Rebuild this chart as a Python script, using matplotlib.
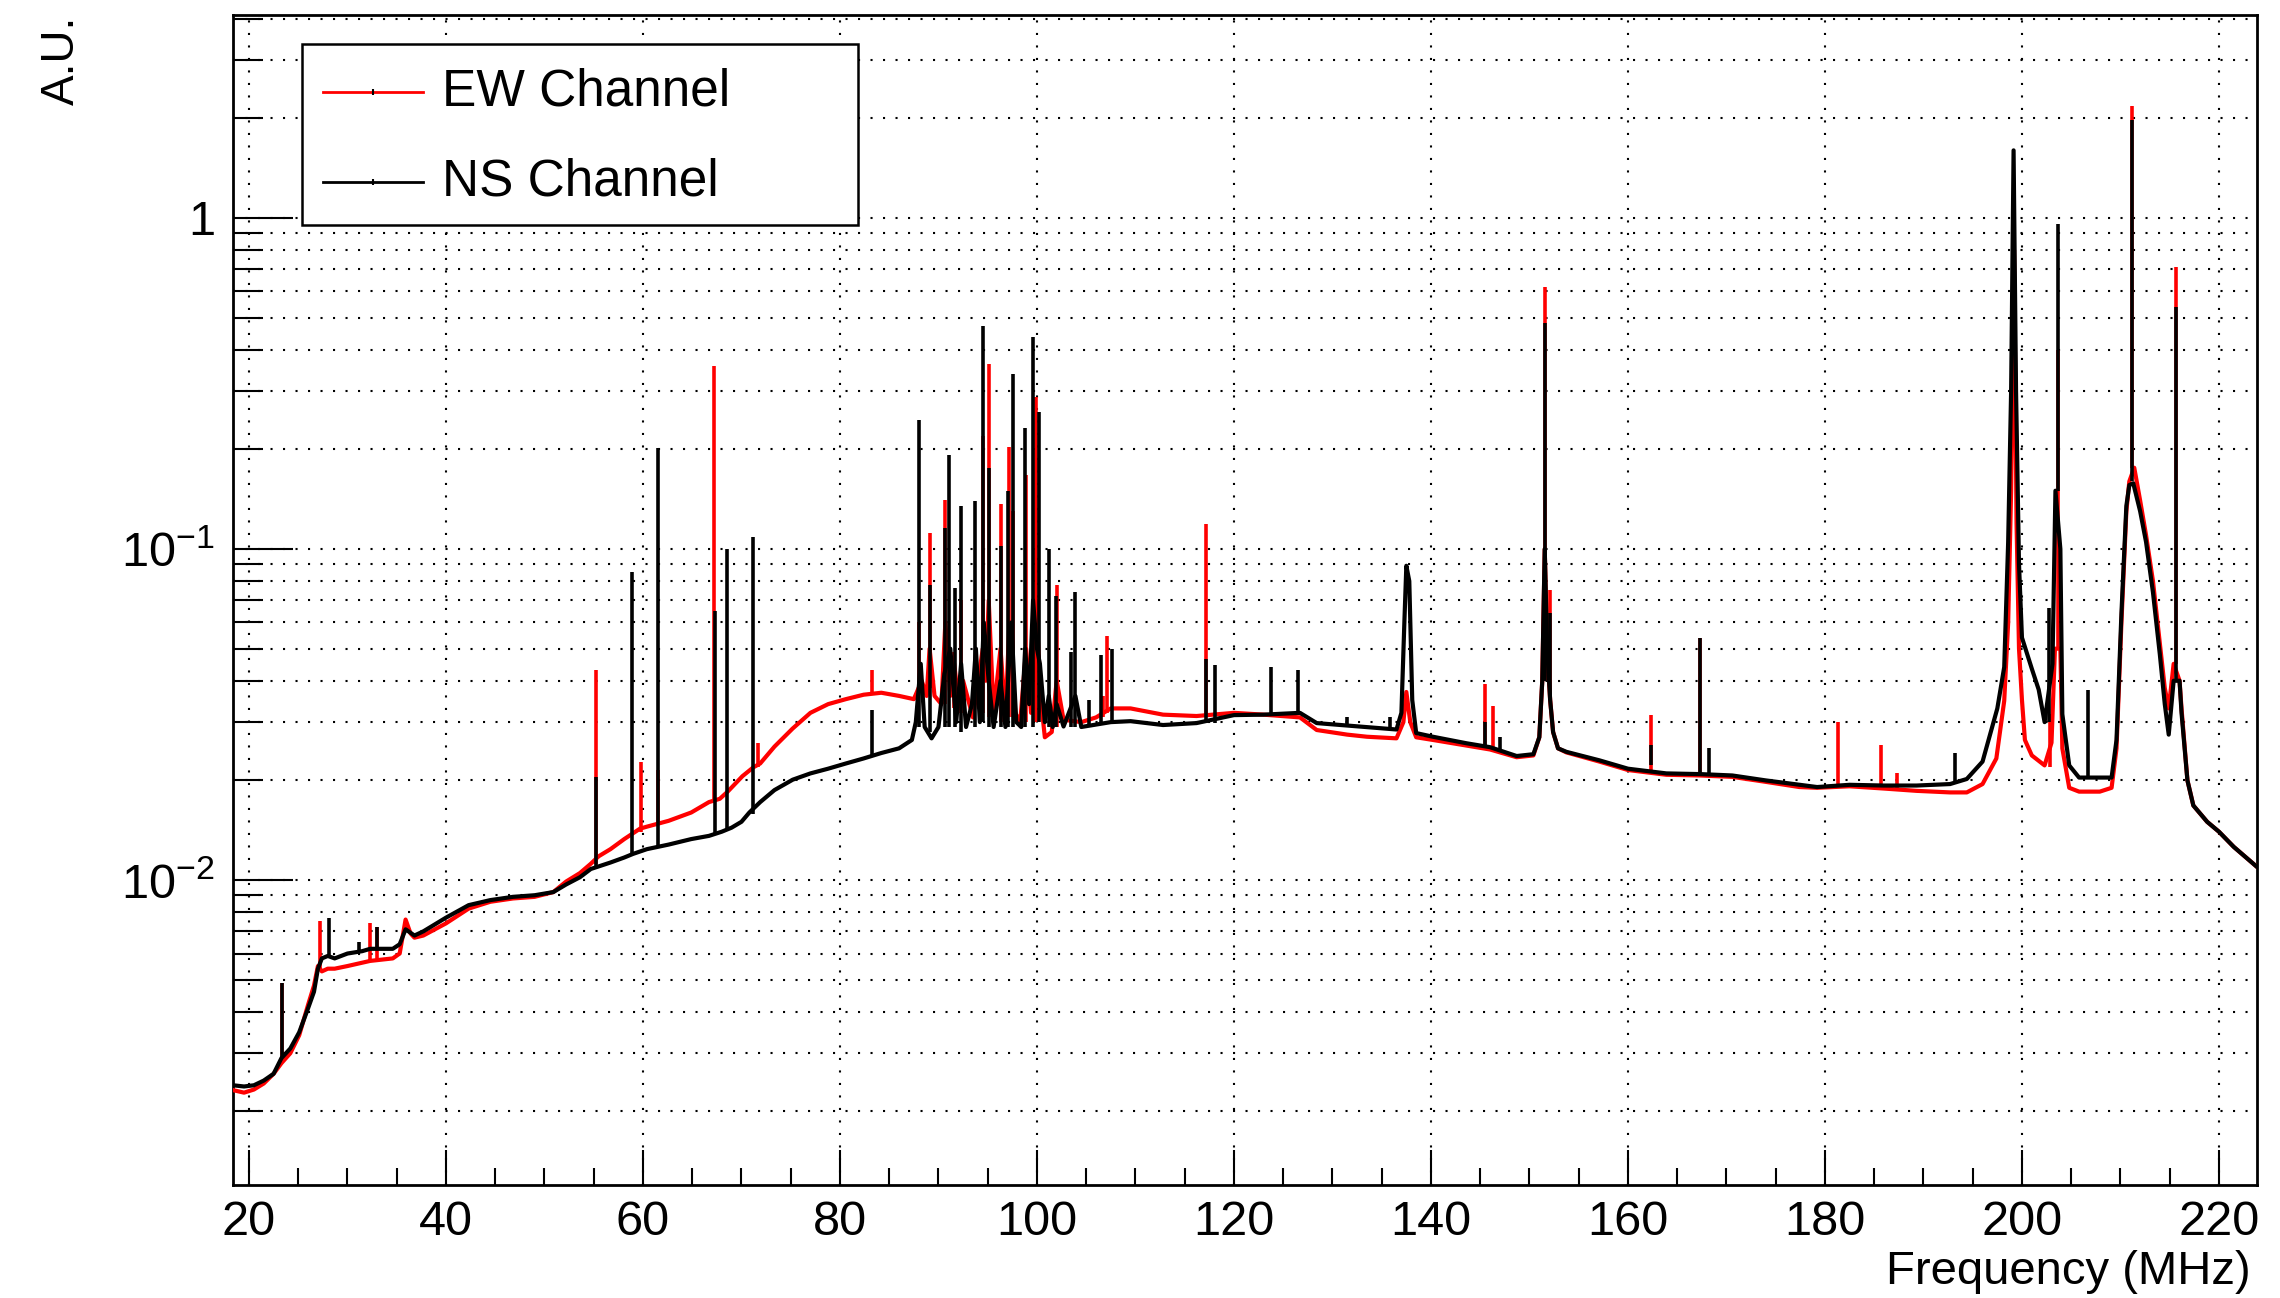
import matplotlib
matplotlib.use('Agg')
import matplotlib.pyplot as plt
import numpy as np
from matplotlib.patches import Rectangle
from matplotlib.lines import Line2D
from matplotlib.ticker import MultipleLocator, LogLocator, NullFormatter

plt.rcParams['font.family'] = ['Liberation Sans', 'DejaVu Sans']

# NS channel (black) - smooth part of the spectrum
ns_freq = [18.4, 19.5, 20.5, 21.5, 22.5, 23.3, 24.2, 25.1, 26.0, 26.6, 27.0, 27.4, 28.0, 28.7,
           30.0, 31.5, 32.3, 33.5, 34.6, 35.3, 35.9, 36.8, 37.7, 40.0, 42.3, 44.5, 46.8, 49.0,
           50.9, 52.2, 53.6, 54.7, 55.5, 56.7, 58.1, 59.0, 60.4, 62.6, 64.9, 66.7, 68.0, 69.0,
           70.0, 70.8, 71.9, 73.35, 75.2, 77.0, 78.8, 80.6, 82.4, 84.2, 86.0, 87.3, 87.7, 88.2,
           88.6, 89.3, 90.0, 90.6, 91.2, 91.8, 92.3, 92.8, 93.4, 93.8, 94.2, 94.6, 95.1, 95.6,
           96.3, 96.8, 97.4, 97.9, 98.4, 98.8, 99.2, 99.6, 100.0, 100.3, 100.8, 101.2, 101.6,
           102.0, 102.7, 103.9, 104.5, 106.0, 107.5, 109.5, 112.8, 116.2, 120.0, 123.0, 126.7,
           128.4, 131.5, 133.5, 136.5, 137.0, 137.3, 137.5, 137.8, 138.1, 138.5, 140.2, 143.6,
           146.0, 148.7, 150.4, 151.0, 151.3, 151.55, 151.8, 152.1, 152.4, 152.9, 153.75,
           157.1, 160.0, 163.9, 167.3, 170.6, 174.0, 177.4, 179.2, 182.5, 186.0, 189.3, 192.7,
           194.4, 196.0, 197.5, 198.2, 198.6, 198.9, 199.15, 199.4, 199.7, 200.0, 201.0, 201.7,
           202.3, 203.1, 203.4, 203.9, 204.1, 204.8, 205.8, 207.9, 209.1, 209.6, 210.1, 210.6,
           210.9, 211.3, 212.0, 212.6, 213.3, 214.0, 214.5, 214.9, 215.4, 216.0, 216.2, 216.8,
           217.4, 218.8, 220.0, 221.5, 223.8]
ns_val = [0.0024, 0.00238, 0.0024, 0.00248, 0.0026, 0.0029, 0.0031, 0.00347, 0.0041, 0.0046,
          0.0054, 0.0058, 0.0059, 0.0058, 0.0060, 0.0061, 0.0062, 0.0062, 0.0062, 0.0064,
          0.0071, 0.0068, 0.0070, 0.0077, 0.0084, 0.0087, 0.0089, 0.0090, 0.0092, 0.0097,
          0.0102, 0.0108, 0.0110, 0.0113, 0.0117, 0.0120, 0.0124, 0.0128, 0.0133, 0.0136,
          0.0140, 0.0144, 0.0150, 0.0160, 0.0172, 0.0187, 0.0201, 0.0210, 0.0217, 0.0225,
          0.0233, 0.0242, 0.0250, 0.0265, 0.030, 0.045, 0.029, 0.0268, 0.029, 0.042, 0.050,
          0.030, 0.045, 0.029, 0.034, 0.050, 0.030, 0.060, 0.040, 0.029, 0.040, 0.029, 0.060,
          0.030, 0.029, 0.050, 0.034, 0.070, 0.050, 0.045, 0.030, 0.036, 0.029, 0.034, 0.0291,
          0.036, 0.029, 0.0295, 0.030, 0.0302, 0.0294, 0.0298, 0.0315, 0.0316, 0.0320, 0.0298,
          0.0293, 0.0290, 0.0285, 0.032, 0.060, 0.089, 0.080, 0.035, 0.0278, 0.0271, 0.0259,
          0.0252, 0.0237, 0.0240, 0.027, 0.040, 0.10, 0.050, 0.035, 0.028, 0.025, 0.0244,
          0.0230, 0.0217, 0.0210, 0.0209, 0.0207, 0.0200, 0.0194, 0.0191, 0.0194, 0.0193,
          0.0193, 0.0195, 0.0202, 0.0228, 0.033, 0.044, 0.105, 0.30, 1.6, 0.30, 0.090, 0.054,
          0.0435, 0.0376, 0.030, 0.045, 0.15, 0.10, 0.0317, 0.0222, 0.0204, 0.0204, 0.0204,
          0.0265, 0.064, 0.135, 0.156, 0.158, 0.130, 0.105, 0.074, 0.048, 0.034, 0.0275,
          0.040, 0.040, 0.032, 0.020, 0.0168, 0.0150, 0.0140, 0.0126, 0.0110]

# NS channel narrow lines: frequency, foot, tip
ns_spike_freq = [23.4, 28.1, 31.2, 33.0, 55.2, 58.9, 61.5, 67.3, 68.5, 71.2, 83.3, 88.05, 89.1,
                 90.7, 91.1, 91.7, 92.3, 93.7, 94.5, 95.1, 96.3, 97.1, 97.55, 98.75, 99.55,
                 100.2, 101.2, 101.9, 103.5, 103.9, 105.3, 106.55, 107.6, 117.2, 118.1, 123.75,
                 126.5, 131.5, 135.8, 145.5, 147.0, 151.55, 152.1, 162.3, 167.3, 168.2, 193.2,
                 202.7, 203.65, 206.7, 211.2, 215.65]
ns_spike_low = [0.0029, 0.0059, 0.0061, 0.0062, 0.0109, 0.0119, 0.0126, 0.0137, 0.0142, 0.0158,
                0.0236, 0.029, 0.028, 0.029, 0.029, 0.029, 0.028, 0.029, 0.030, 0.029, 0.029,
                0.029, 0.029, 0.029, 0.029, 0.030, 0.029, 0.029, 0.029, 0.029, 0.029, 0.0295,
                0.030, 0.0298, 0.0298, 0.0316, 0.032, 0.0293, 0.0287, 0.0255, 0.0245, 0.040,
                0.035, 0.0222, 0.0210, 0.0210, 0.0195, 0.030, 0.15, 0.0204, 0.16, 0.040]
ns_spike_high = [0.0049, 0.0077, 0.0065, 0.0072, 0.0205, 0.085, 0.202, 0.065, 0.100, 0.109,
                 0.0327, 0.245, 0.078, 0.116, 0.192, 0.076, 0.135, 0.140, 0.473, 0.176, 0.102,
                 0.150, 0.337, 0.232, 0.438, 0.260, 0.100, 0.072, 0.049, 0.074, 0.035, 0.048,
                 0.050, 0.0466, 0.0445, 0.044, 0.043, 0.031, 0.031, 0.030, 0.027, 0.48, 0.064,
                 0.0256, 0.0537, 0.025, 0.0242, 0.0665, 0.96, 0.0376, 1.98, 0.54]

# EW channel (red) - smooth part of the spectrum (rows kept aligned with the values)
ew_freq = [18.4, 19.5, 20.5, 21.5, 22.5, 23.3, 24.2, 25.1, 26.0, 26.6,
           27.0, 27.4, 28.0, 28.7, 30.0, 32.3, 34.6, 35.3, 35.9, 36.4,
           36.8, 37.7, 40.0, 42.3, 44.5, 46.8, 49.0, 50.9, 52.2, 53.6,
           54.7, 55.5, 56.7, 58.1, 59.7, 60.4, 62.6, 64.9, 66.7, 67.8,
           68.6, 70.1, 71.2, 71.9, 73.35, 75.2, 77.0, 78.8, 80.6, 82.4,
           84.2, 86.0, 87.5, 88.3, 88.8, 89.1, 89.6, 90.3, 90.7, 91.2,
           91.6, 92.1, 92.5, 93.5, 94.5, 94.8, 95.1, 95.6, 96.3, 96.8,
           97.2, 97.8, 98.3, 98.9, 99.4, 99.9, 100.4, 100.8, 101.5, 102.0,
           102.7, 104.5, 106.0, 107.5, 109.5, 112.8, 116.2, 120.0, 123.0, 126.7,
           128.4, 131.5, 133.5, 136.5, 137.2, 137.5, 137.9, 138.5, 140.2, 143.6,
           146.0, 148.7, 150.4, 151.0, 151.3, 151.55, 151.8, 152.1, 152.4, 152.9,
           153.75, 157.1, 160.0, 163.9, 167.3, 170.6, 174.0, 177.4, 179.2, 182.5,
           186.0, 189.3, 192.7, 194.4, 196.0, 197.4, 198.2, 198.6, 198.9, 199.2,
           199.45, 199.7, 200.0, 200.3, 201.0, 202.3, 203.0, 203.35, 203.9, 204.1,
           204.8, 205.8, 207.9, 209.1, 209.6, 210.1, 210.6, 210.9, 211.4, 212.0,
           212.6, 213.3, 214.0, 214.5, 214.9, 215.4, 216.0, 216.2, 216.8, 217.4,
           218.8, 220.0, 221.5, 223.8]
ew_val = [0.00232, 0.00228, 0.00233, 0.00243, 0.0026, 0.0028, 0.0030, 0.0034, 0.0042, 0.0048,
          0.0055, 0.0053, 0.0054, 0.0054, 0.0055, 0.0057, 0.0058, 0.0060, 0.0076, 0.0069,
          0.0067, 0.0068, 0.0074, 0.0082, 0.0086, 0.0088, 0.0089, 0.0092, 0.0099, 0.0105,
          0.0112, 0.0118, 0.0124, 0.0133, 0.0143, 0.0145, 0.0151, 0.0160, 0.0172, 0.0176,
          0.0185, 0.0206, 0.0219, 0.0225, 0.0253, 0.0287, 0.0320, 0.0340, 0.0352, 0.0363,
          0.0368, 0.0360, 0.0352, 0.040, 0.036, 0.050, 0.036, 0.034, 0.060, 0.036,
          0.045, 0.033, 0.040, 0.031, 0.050, 0.040, 0.070, 0.032, 0.050, 0.031,
          0.060, 0.032, 0.030, 0.050, 0.032, 0.070, 0.035, 0.027, 0.028, 0.040,
          0.0305, 0.030, 0.031, 0.033, 0.033, 0.0316, 0.0313, 0.0320, 0.0316, 0.0310,
          0.0284, 0.0275, 0.0271, 0.0268, 0.030, 0.037, 0.030, 0.0270, 0.0265, 0.0255,
          0.0248, 0.0235, 0.0238, 0.027, 0.040, 0.10, 0.050, 0.035, 0.028, 0.025,
          0.0243, 0.0228, 0.0215, 0.0208, 0.0207, 0.0205, 0.0198, 0.0191, 0.0190, 0.0192,
          0.0189, 0.0186, 0.0184, 0.0184, 0.0195, 0.0233, 0.0348, 0.060, 0.15, 0.80,
          0.12, 0.050, 0.035, 0.0265, 0.0238, 0.0222, 0.026, 0.050, 0.050, 0.025,
          0.0190, 0.0185, 0.0185, 0.0190, 0.025, 0.060, 0.130, 0.160, 0.176, 0.140,
          0.110, 0.080, 0.052, 0.038, 0.033, 0.045, 0.040, 0.033, 0.020, 0.0168,
          0.0150, 0.0140, 0.0126, 0.0110]

# EW channel narrow lines: frequency, foot, tip
ew_spike_freq = [23.4, 27.2, 32.3, 33.0, 55.2, 59.75, 61.5, 67.26, 71.7, 83.26, 88.05, 89.1,
                 90.7, 91.6, 92.3, 94.5, 95.1, 96.3, 97.2, 97.55, 98.9, 99.9, 102.0, 106.7,
                 107.1, 117.2, 145.5, 146.25, 151.55, 152.1, 162.3, 167.3, 181.3, 185.7, 187.3,
                 202.8, 203.65, 211.2, 215.65]
ew_spike_low = [0.0028, 0.0054, 0.0057, 0.0057, 0.0112, 0.0140, 0.0148, 0.0175, 0.022, 0.0365,
                0.037, 0.038, 0.034, 0.033, 0.032, 0.032, 0.031, 0.030, 0.031, 0.031, 0.030,
                0.030, 0.029, 0.031, 0.032, 0.0313, 0.025, 0.0245, 0.040, 0.035, 0.0215,
                0.0208, 0.019, 0.0188, 0.0187, 0.022, 0.050, 0.176, 0.045]
ew_spike_high = [0.0049, 0.0075, 0.0074, 0.0072, 0.043, 0.0228, 0.0215, 0.357, 0.026, 0.043,
                 0.060, 0.112, 0.141, 0.049, 0.070, 0.22, 0.363, 0.137, 0.203, 0.130, 0.167,
                 0.287, 0.078, 0.036, 0.0547, 0.119, 0.039, 0.0335, 0.62, 0.075, 0.0315,
                 0.0537, 0.030, 0.0255, 0.021, 0.0317, 0.40, 2.18, 0.71]

fig = plt.figure(figsize=(22.8, 12.98), dpi=100)
ax = fig.add_axes([0.1022, 0.0871, 0.8877, 0.9013])

lw_base = 3.0
lw_spike = 2.6
ax.plot(ew_freq, ew_val, color='#ff0000', lw=lw_base, zorder=3)
ax.vlines(ew_spike_freq, ew_spike_low, ew_spike_high, color='#ff0000', lw=lw_spike, zorder=3)
ax.plot(ns_freq, ns_val, color='black', lw=lw_base, zorder=4)
ax.vlines(ns_spike_freq, ns_spike_low, ns_spike_high, color='black', lw=lw_spike, zorder=4)

ax.set_yscale('log')
ax.set_xlim(18.38, 223.86)
ax.set_ylim(0.0012, 4.1)

ax.xaxis.set_major_locator(MultipleLocator(20))
ax.xaxis.set_minor_locator(MultipleLocator(5))
ax.set_yticks([0.01, 0.1, 1])
ax.set_yticklabels([r'$\mathregular{10^{-2}}$', r'$\mathregular{10^{-1}}$', '1'])
ax.yaxis.set_minor_locator(LogLocator(base=10, subs=np.arange(2, 10) * 1.0, numticks=30))
ax.yaxis.set_minor_formatter(NullFormatter())

ax.tick_params(axis='x', which='major', direction='in', length=25, width=1.5,
               labelsize=35, pad=11, top=False)
ax.tick_params(axis='x', which='minor', direction='in', length=12.5, width=1.5, top=False)
ax.tick_params(axis='y', which='major', direction='in', length=43, width=1.5,
               labelsize=35, pad=13, right=False)
ax.tick_params(axis='y', which='minor', direction='in', length=21.5, width=1.5, right=False)

grid_style = dict(color='black', linestyle=(0, (1, 5)), linewidth=1.5)
ax.grid(True, which='major', axis='x', **grid_style)
ax.grid(True, which='both', axis='y', **grid_style)
ax.set_axisbelow(False)

for s in ax.spines.values():
    s.set_linewidth(2)

# legend box, drawn like the ROOT one
ax.add_patch(Rectangle((0.0341, 0.8205), 0.2747, 0.1545, transform=ax.transAxes,
                       facecolor='white', edgecolor='black', lw=1.8, zorder=6))
for yy, col, name in [(0.934, '#ff0000', 'EW Channel'), (0.857, 'black', 'NS Channel')]:
    ax.add_line(Line2D([0.0447, 0.0937], [yy, yy], transform=ax.transAxes, color=col,
                       lw=2, zorder=7))
    ax.add_line(Line2D([0.0692], [yy], transform=ax.transAxes, color='black', marker='|',
                       markersize=4, markeredgewidth=1.5, zorder=8))
    ax.text(0.1033, yy, name, transform=ax.transAxes, fontsize=37, va='center',
            ha='left', zorder=8)

fig.text(0.027, 0.988, 'A.U.', rotation=90, ha='center', va='top', fontsize=33)
fig.text(0.987, 0.0108, 'Frequency (MHz)', ha='right', va='baseline', fontsize=34)

fig.savefig('out.png', dpi=100)
